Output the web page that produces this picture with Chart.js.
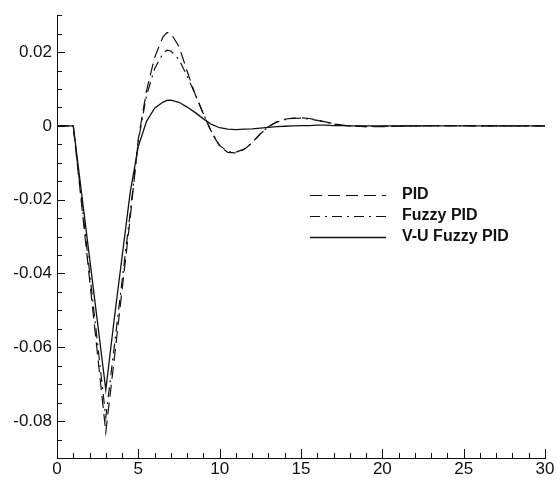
<!DOCTYPE html>
<html>
<head>
<meta charset="utf-8">
<title>PID response</title>
<script src="https://cdn.jsdelivr.net/npm/chart.js@4.4.1/dist/chart.umd.min.js"></script>
<style>
  body { margin: 0; background: #fff; }
  #wrap { width: 558px; height: 480px; }
</style>
</head>
<body>
<div id="wrap"><canvas id="chart" width="558" height="480"></canvas></div>
<script>
// time axis (s)
const times = [0, 1, 2, 3, 3.5, 4, 4.5, 5, 5.5, 6, 6.5, 6.75, 7, 7.5, 8, 8.5, 9, 9.5, 10, 10.5,
  11, 11.5, 12, 12.5, 13, 13.5, 14, 14.5, 15, 15.5, 16, 16.5, 17, 17.5, 18, 19, 20, 22, 24, 26, 28, 30];

// responses
const pid = [0, 0, -0.0415, -0.083, -0.064, -0.0445, -0.025, -0.0035, 0.0095, 0.0185, 0.024, 0.0253, 0.0251, 0.0215,
  0.0148, 0.0085, 0.0032, -0.0018, -0.0055, -0.0072, -0.0073, -0.0064, -0.0046, -0.0022, -0.0002, 0.0011,
  0.0018, 0.0021, 0.0022, 0.002, 0.0016, 0.0011, 0.0006, 0.0002, 0, -0.0002, -0.0002, 0, 0.0001, 0, 0, 0];
const fuzzyPid = [0, 0, -0.0395, -0.079, -0.0605, -0.042, -0.0235, -0.004, 0.0082, 0.0155, 0.0195, 0.0205, 0.0203, 0.018,
  0.0135, 0.0085, 0.0033, -0.0016, -0.0053, -0.007, -0.0071, -0.0063, -0.0045, -0.0021, -0.0002, 0.001,
  0.0017, 0.002, 0.0021, 0.0019, 0.0015, 0.001, 0.0005, 0.0002, 0, -0.0002, -0.0001, 0, 0.0001, 0, 0, 0];
const vuFuzzyPid = [0, 0, -0.0357, -0.0715, -0.053, -0.0355, -0.018, -0.0055, 0.0012, 0.0048, 0.0064, 0.0069, 0.007, 0.0064,
  0.0051, 0.0036, 0.0019, 0.0004, -0.0005, -0.0009, -0.001, -0.0009, -0.0008, -0.0006, -0.0004, -0.0002,
  -0.0001, 0, 0.0001, 0.0001, 0.0002, 0.0002, 0.0001, 0.0001, 0, 0, 0, 0, 0, 0, 0, 0];

const seriesNames = ['PID', 'Fuzzy PID', 'V-U Fuzzy PID'];

const xTicks = [0, 5, 10, 15, 20, 25, 30];
const yTicks = [-0.08, -0.06, -0.04, -0.02, 0, 0.02];

const INK = '#111';
const FONT = "'Liberation Sans', Arial, sans-serif";

function toPoints(vals) {
  return times.map((t, i) => ({ x: t, y: vals[i] }));
}

// inward tick marks like the original plot
const tickMarks = {
  id: 'tickMarks',
  afterDraw(chart) {
    const { ctx, chartArea: area } = chart;
    const xs = chart.scales.x, ys = chart.scales.y;
    ctx.save();
    ctx.strokeStyle = INK;
    ctx.lineWidth = 1;
    ctx.beginPath();
    for (let i = 0; i <= 30; i++) {
      const px = Math.round(xs.getPixelForValue(i)) + 0.5;
      const len = i % 5 === 0 ? 9 : 5;
      ctx.moveTo(px, area.bottom);
      ctx.lineTo(px, area.bottom - len);
    }
    for (let i = 0; i <= 24; i++) {
      const v = -0.09 + i * 0.005;
      const py = Math.round(ys.getPixelForValue(v)) + 0.5;
      const major = Math.abs(v / 0.02 - Math.round(v / 0.02)) < 1e-6;
      ctx.moveTo(area.left, py);
      ctx.lineTo(area.left + (major ? 8 : 5), py);
    }
    ctx.stroke();
    ctx.restore();
  }
};

// legend drawn inside the plot, right of centre
const innerLegend = {
  id: 'innerLegend',
  afterDraw(chart) {
    const ctx = chart.ctx;
    const rows = [195, 216, 237];
    ctx.save();
    ctx.font = 'bold 16px ' + FONT;
    ctx.textBaseline = 'middle';
    chart.data.datasets.forEach((ds, i) => {
      ctx.strokeStyle = ds.borderColor;
      ctx.lineWidth = ds.borderWidth;
      ctx.setLineDash(ds.borderDash || []);
      ctx.beginPath();
      ctx.moveTo(310, rows[i] + 0.5);
      ctx.lineTo(386, rows[i] + 0.5);
      ctx.stroke();
      ctx.setLineDash([]);
      ctx.fillStyle = INK;
      ctx.fillText(ds.label, 402, rows[i]);
    });
    ctx.restore();
  }
};

function yLabel(v) {
  const r = Math.round(v * 100) / 100;
  return r === 0 ? '0' : r.toFixed(2);
}

const ctx = document.getElementById('chart').getContext('2d');
new Chart(ctx, {
  type: 'line',
  data: {
    datasets: [
      { label: seriesNames[0], data: toPoints(pid), borderColor: INK, borderWidth: 1.2, borderDash: [12, 6] },
      { label: seriesNames[1], data: toPoints(fuzzyPid), borderColor: INK, borderWidth: 1.2, borderDash: [10, 5, 2, 5] },
      { label: seriesNames[2], data: toPoints(vuFuzzyPid), borderColor: INK, borderWidth: 1.3 }
    ]
  },
  options: {
    responsive: false,
    animation: false,
    layout: { padding: { top: 14, right: 13, left: 0, bottom: 0 } },
    elements: { point: { radius: 0 }, line: { tension: 0, fill: false } },
    plugins: { legend: { display: false }, tooltip: { enabled: false } },
    scales: {
      x: {
        type: 'linear',
        min: 0,
        max: 30,
        afterBuildTicks: s => { s.ticks = xTicks.map(v => ({ value: v })); },
        afterFit: s => { s.height = 22; },
        grid: { display: false, drawTicks: false },
        border: { display: true, color: INK, width: 1 },
        ticks: { color: INK, padding: 3, maxRotation: 0, font: { family: FONT, size: 17, lineHeight: 1 } }
      },
      y: {
        type: 'linear',
        min: -0.09,
        max: 0.03,
        afterBuildTicks: s => { s.ticks = yTicks.map(v => ({ value: v })); },
        afterFit: s => { s.width = 57; },
        grid: { display: false, drawTicks: false },
        border: { display: true, color: INK, width: 1 },
        ticks: { color: INK, padding: 5, callback: yLabel, font: { family: FONT, size: 17 } }
      }
    }
  },
  plugins: [tickMarks, innerLegend]
});
</script>
</body>
</html>
